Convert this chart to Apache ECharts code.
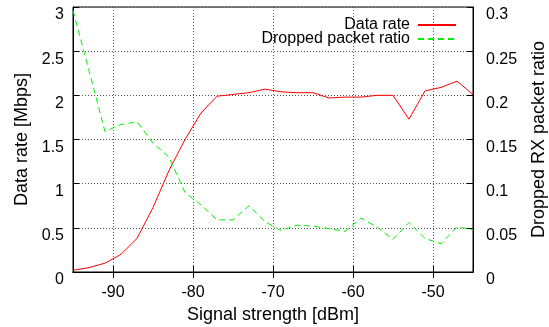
<!DOCTYPE html>
<html>
<head>
<meta charset="utf-8">
<title>Data rate vs signal strength</title>
<script src="https://cdn.jsdelivr.net/npm/echarts@6/dist/echarts.min.js"></script>
<style>
    html, body { margin: 0; padding: 0; background: #fff; }
    #signalChart { width: 549px; height: 327px; }
</style>
</head>
<body>
<div id="signalChart"></div>
<script>
// 信号强度 [dBm]
var signalStrength = [-95, -93, -91, -89, -87, -85, -83, -81, -79, -77, -75, -73, -71,
    -69, -67, -65, -63, -61, -59, -57, -55, -53, -51, -49, -47, -45];
// 数据速率 [Mbps]
var dataRate = [0.02, 0.05, 0.10, 0.20, 0.38, 0.73, 1.15, 1.50, 1.80, 1.99, 2.01, 2.03, 2.07,
    2.04, 2.03, 2.03, 1.97, 1.98, 1.98, 2.00, 2.00, 1.73, 2.05, 2.09, 2.16, 2.01];
// 丢包率
var droppedRatio = [0.296, 0.228, 0.159, 0.167, 0.170, 0.146, 0.130, 0.090, 0.076, 0.059, 0.059, 0.075, 0.057,
    0.047, 0.053, 0.052, 0.049, 0.046, 0.061, 0.051, 0.037, 0.056, 0.038, 0.032, 0.051, 0.048];
// x 轴刻度
var xTickValues = [-90, -80, -70, -60, -50];

var FONT = 'Liberation Sans, Arial, sans-serif';

/**
 * 把两组数组拼成 [x, y] 点
 */
function toPairs(xs, ys) {
    var pairs = [];
    for (var i = 0; i < xs.length; i++) {
        pairs.push([xs[i], ys[i]]);
    }
    return pairs;
}

/**
 * 信号强度图表
 */
function signalChart() {
    var myChart = echarts.init(document.getElementById('signalChart'));
    var gridLine = {show: true, lineStyle: {color: '#555', width: 1, type: [1, 2]}};
    var legendBase = {
        orient: 'vertical',
        right: 92,
        align: 'right',
        itemWidth: 38,
        itemHeight: 14,
        padding: 0,
        itemStyle: {opacity: 0},
        textStyle: {fontSize: 16, color: '#000', fontFamily: FONT, padding: [0, 3, 0, 0]}
    };
    var option = null;
    option = {
        animation: false,
        textStyle: {fontFamily: FONT},
        grid: {
            left: 73, right: 76, top: 7, bottom: 55,
            containLabel: false, outerBoundsMode: 'none',
            show: true, borderColor: '#000', borderWidth: 1
        },
        legend: [
            Object.assign({}, legendBase, {top: 17, data: ['Data rate']}),
            Object.assign({}, legendBase, {top: 31, data: ['Dropped packet ratio']})
        ],
        xAxis: [
            {
                type: 'value',
                position: 'bottom',
                min: -95,
                max: -45,
                name: 'Signal strength [dBm]',
                nameLocation: 'middle',
                nameGap: 33,
                nameTextStyle: {fontSize: 18, color: '#000', fontFamily: FONT},
                axisLine: {lineStyle: {color: '#000'}},
                axisTick: {inside: true, length: 6, customValues: xTickValues, lineStyle: {color: '#000'}},
                axisLabel: {customValues: xTickValues, fontSize: 16, color: '#000', margin: 13, fontFamily: FONT},
                splitLine: gridLine
            },
            {
                type: 'value',
                position: 'top',
                min: -95,
                max: -45,
                axisLine: {lineStyle: {color: '#000'}},
                axisTick: {inside: true, length: 6, customValues: xTickValues, lineStyle: {color: '#000'}},
                axisLabel: {show: false},
                splitLine: {show: false}
            }
        ],
        yAxis: [
            {
                type: 'value',
                position: 'left',
                min: 0,
                max: 3,
                interval: 0.5,
                name: 'Data rate [Mbps]',
                nameLocation: 'middle',
                nameRotate: 90,
                nameGap: 40,
                nameTextStyle: {fontSize: 18, color: '#000', fontFamily: FONT},
                axisLine: {show: true, lineStyle: {color: '#000'}},
                axisTick: {show: true, inside: true, length: 6, lineStyle: {color: '#000'}},
                axisLabel: {fontSize: 16, color: '#000', margin: 9, verticalAlign: 'top', fontFamily: FONT},
                splitLine: gridLine
            },
            {
                type: 'value',
                position: 'right',
                min: 0,
                max: 0.3,
                interval: 0.05,
                name: 'Dropped RX packet ratio',
                nameLocation: 'middle',
                nameRotate: 90,
                nameGap: 57,
                nameTextStyle: {fontSize: 18, color: '#000', fontFamily: FONT},
                axisLine: {show: true, lineStyle: {color: '#000'}},
                axisTick: {show: true, inside: true, length: 6, lineStyle: {color: '#000'}},
                axisLabel: {fontSize: 16, color: '#000', margin: 13, verticalAlign: 'top', fontFamily: FONT},
                splitLine: {show: false}
            }
        ],
        series: [
            {
                name: 'Data rate',
                type: 'line',
                xAxisIndex: 0,
                yAxisIndex: 0,
                symbol: 'none',
                data: toPairs(signalStrength, dataRate),
                itemStyle: {color: '#ff0000'},
                lineStyle: {color: '#ff0000', width: 1}
            },
            {
                name: 'Dropped packet ratio',
                type: 'line',
                xAxisIndex: 0,
                yAxisIndex: 1,
                symbol: 'none',
                data: toPairs(signalStrength, droppedRatio),
                itemStyle: {color: '#00ee00'},
                lineStyle: {color: '#00ee00', width: 1, type: [6, 4]}
            }
        ]
    };
    if (option && typeof option === "object") {
        myChart.setOption(option, true);
    }
    resize(myChart);
}

/**
 * 依据浏览器大小重新定义图表尺寸
 */
function resize(chart) {
    window.addEventListener('resize', function () {
        chart.resize();
    });
}

signalChart();
</script>
</body>
</html>
